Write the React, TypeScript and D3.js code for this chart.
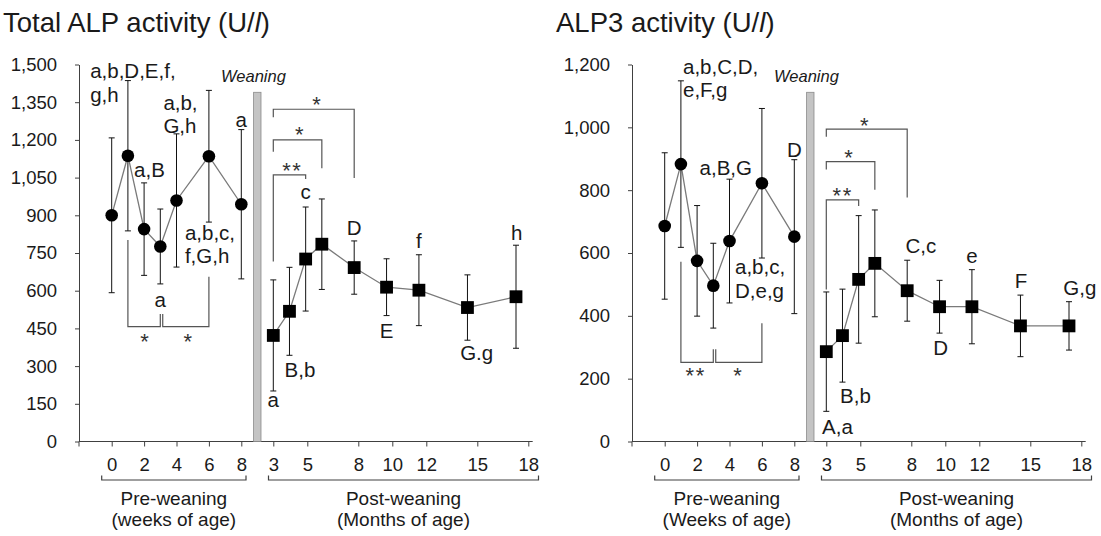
import React, { useRef, useEffect } from "react";
import * as d3 from "d3";

// ages
const preWeeks = [0, 1, 2, 3, 4, 6, 8];
const postMonths = [3, 4, 5, 6, 8, 10, 12, 15, 18];
const weekTicks = [0, 2, 4, 6, 8];
const monthTicks = [3, 5, 8, 10, 12, 15, 18];

// Total ALP (U/l), mean and SD
const totalPreMean = [900, 1137, 845, 776, 959, 1135, 944];
const totalPreSd = [308, 299, 184, 149, 265, 262, 297];
const totalPostMean = [422, 518, 726, 785, 692, 614, 602, 533, 576];
const totalPostSd = [221, 175, 207, 180, 106, 113, 141, 130, 205];
const totalYTicks = [0, 150, 300, 450, 600, 750, 900, 1050, 1200, 1350, 1500];

// ALP3 (U/l)
const alp3PreMean = [686, 883, 575, 496, 638, 822, 652];
const alp3PreSd = [233, 265, 176, 135, 197, 238, 245];
const alp3PostMean = [286, 337, 516, 567, 480, 429, 429, 368, 368];
const alp3PostSd = [190, 148, 203, 170, 97, 84, 118, 98, 77];
const alp3YTicks = [0, 200, 400, 600, 800, 1000, 1200];

// letters of significance, placed in data units (p = period)
const totalLetters = [
  { p: "pre", x: -1.33, y: 1445, lines: ["a,b,D,E,f,", "g,h"], anchor: "start" },
  { p: "pre", x: 2.33, y: 1053, lines: ["a,B"], anchor: "middle" },
  { p: "pre", x: 3.19, y: 1319, lines: ["a,b,", "G,h"], anchor: "start" },
  { p: "pre", x: 8, y: 1253, lines: ["a"], anchor: "middle" },
  { p: "pre", x: 4.52, y: 802, lines: ["a,b,c,", "f,G,h"], anchor: "start" },
  { p: "pre", x: 3, y: 536, lines: ["a"], anchor: "middle" },
  { p: "post", x: 3, y: 137, lines: ["a"], anchor: "middle" },
  { p: "post", x: 4.65, y: 258, lines: ["B,b"], anchor: "middle" },
  { p: "post", x: 5, y: 964, lines: ["c"], anchor: "middle" },
  { p: "post", x: 8, y: 822, lines: ["D"], anchor: "middle" },
  { p: "post", x: 10, y: 411, lines: ["E"], anchor: "middle" },
  { p: "post", x: 12, y: 769, lines: ["f"], anchor: "middle" },
  { p: "post", x: 15.57, y: 324, lines: ["G.g"], anchor: "middle" },
  { p: "post", x: 18.04, y: 802, lines: ["h"], anchor: "middle" },
];
const alp3Letters = [
  { p: "pre", x: 1.13, y: 1170, lines: ["a,b,C,D,", "e,F,g"], anchor: "start" },
  { p: "pre", x: 3.77, y: 848, lines: ["a,B,G"], anchor: "middle" },
  { p: "pre", x: 8, y: 906, lines: ["D"], anchor: "middle" },
  { p: "pre", x: 4.34, y: 532, lines: ["a,b,c,", "D,e,g"], anchor: "start" },
  { p: "post", x: 3.69, y: 24, lines: ["A,a"], anchor: "middle" },
  { p: "post", x: 4.8, y: 122, lines: ["B,b"], anchor: "middle" },
  { p: "post", x: 8.84, y: 600, lines: ["C,c"], anchor: "middle" },
  { p: "post", x: 10.07, y: 275, lines: ["D"], anchor: "middle" },
  { p: "post", x: 12, y: 568, lines: ["e"], anchor: "middle" },
  { p: "post", x: 15.03, y: 488, lines: ["F"], anchor: "middle" },
  { p: "post", x: 18.67, y: 466, lines: ["G,g"], anchor: "middle" },
];

// comparison brackets: legs x1/x2, level y, leg ends y1/y2, star centre sx/sy
const totalBrackets = [
  { p: "pre", x1: 1, x2: 3, y: 457, y1: 802, y2: 507, star: "*", sx: 2.07, sy: 416 },
  { p: "pre", x1: 3.15, x2: 6, y: 457, y1: 507, y2: 656, star: "*", sx: 4.74, sy: 416 },
  { p: "post", x1: 3, x2: 5, y: 1061, y1: 716, y2: 1044, star: "**", sx: 4.17, sy: 1096 },
  { p: "post", x1: 3, x2: 6, y: 1200, y1: 1153, y2: 1087, star: "*", sx: 4.65, sy: 1240 },
  { p: "post", x1: 3, x2: 8, y: 1322, y1: 1290, y2: 1048, star: "*", sx: 5.72, sy: 1359 },
];
const alp3Brackets = [
  { p: "pre", x1: 1, x2: 3, y: 252, y1: 572, y2: 294, star: "**", sx: 1.91, sy: 224 },
  { p: "pre", x1: 3.15, x2: 6, y: 252, y1: 294, y2: 376, star: "*", sx: 4.54, sy: 224 },
  { p: "post", x1: 3, x2: 5, y: 769, y1: 484, y2: 750, star: "**", sx: 4.01, sy: 797 },
  { p: "post", x1: 3, x2: 6, y: 891, y1: 866, y2: 801, star: "*", sx: 4.42, sy: 917 },
  { p: "post", x1: 3, x2: 8, y: 994, y1: 970, y2: 777, star: "*", sx: 5.39, sy: 1021 },
];

const FONT = "'Liberation Sans', Arial, sans-serif";
const INK = "#1a1a1a";

function Panel({ title, yMax, yTicks, preMean, preSd, postMean, postSd, letters, brackets, weeksLabel, offsetX }) {
  const gRef = useRef<SVGGElement>(null);

  useEffect(() => {
    const g = d3.select(gRef.current);
    g.selectAll("*").remove();

    const y = d3.scaleLinear().domain([0, yMax]).range([441.5, 64.5]);
    const xPre = d3.scaleLinear().domain([0, 8]).range([111.7, 241.3]);
    const xPost = d3.scaleLinear().domain([3, 18]).range([273.3, 516]);
    const xPostTick = d3.scaleLinear().domain([3, 18]).range([273.3, 528.3]);
    const xOf = (p, v) => (p === "pre" ? xPre(v) : xPost(v));
    const axisX = 79;
    const axisEnd = 532.7;

    // title
    const t = g.append("text").attr("x", 3).attr("y", 32)
      .attr("font-family", FONT).attr("font-size", 27.5).attr("fill", INK);
    t.append("tspan").text(title + " (U/");
    t.append("tspan").attr("font-style", "italic").text("l");
    t.append("tspan").text(")");

    // y axis
    const yAxis = d3.axisLeft(y).tickValues(yTicks).tickFormat(d3.format(","))
      .tickSizeInner(4).tickSizeOuter(0).tickPadding(18);
    const ya = g.append("g").attr("transform", `translate(${axisX},0)`).call(yAxis);
    ya.attr("font-family", FONT).attr("font-size", 18.5);
    ya.selectAll("text").attr("fill", INK);
    ya.selectAll("line, path").attr("stroke", "#404040");

    // x axis line + ticks
    g.append("line").attr("x1", axisX).attr("x2", axisEnd)
      .attr("y1", 441.5).attr("y2", 441.5).attr("stroke", "#404040");
    g.append("line").attr("x1", axisX).attr("x2", axisX)
      .attr("y1", 441.5).attr("y2", 446.5).attr("stroke", "#404040");
    const xa1 = g.append("g").attr("transform", "translate(0,441.5)")
      .call(d3.axisBottom(xPre).tickValues(weekTicks).tickSizeInner(5).tickSizeOuter(0).tickPadding(11.5));
    const xa2 = g.append("g").attr("transform", "translate(0,441.5)")
      .call(d3.axisBottom(xPostTick).tickValues(monthTicks).tickSizeInner(5).tickSizeOuter(0).tickPadding(11.5));
    [xa1, xa2].forEach((a) => {
      a.attr("font-family", FONT).attr("font-size", 18.5);
      a.select(".domain").remove();
      a.selectAll("text").attr("fill", INK);
      a.selectAll("line").attr("stroke", "#404040");
    });

    // period brackets and captions
    const periods = [
      { x1: 101.7, x2: 246, label: "Pre-weaning", sub: weeksLabel },
      { x1: 268.5, x2: 538.5, label: "Post-weaning", sub: "(Months of age)" },
    ];
    periods.forEach((pd) => {
      g.append("path")
        .attr("d", `M${pd.x1},475.5V480H${pd.x2}V475.5`)
        .attr("fill", "none").attr("stroke", "#404040").attr("stroke-width", 1.2);
      const cx = (pd.x1 + pd.x2) / 2;
      g.append("text").attr("x", cx).attr("y", 504.5).attr("text-anchor", "middle")
        .attr("font-family", FONT).attr("font-size", 19).attr("fill", INK).text(pd.label);
      g.append("text").attr("x", cx).attr("y", 526).attr("text-anchor", "middle")
        .attr("font-family", FONT).attr("font-size", 19).attr("fill", INK).text(pd.sub);
    });

    // weaning bar
    const wx = (xPre(8) + xPost(3)) / 2;
    g.append("rect").attr("x", wx - 3.7).attr("y", 92.3).attr("width", 7.4)
      .attr("height", 441.5 - 92.3).attr("fill", "#c4c4c4").attr("stroke", "#8a8a8a").attr("stroke-width", 0.8);
    g.append("text").attr("x", 221).attr("y", 82).attr("font-family", FONT)
      .attr("font-size", 16.5).attr("font-style", "italic").attr("fill", INK).text("Weaning");

    // series
    const series = [
      { p: "pre", xs: preWeeks, m: preMean, sd: preSd, shape: "circle" },
      { p: "post", xs: postMonths, m: postMean, sd: postSd, shape: "square" },
    ];
    series.forEach((s) => {
      const pts = s.xs.map((x, i) => ({ x: xOf(s.p, x), y: y(s.m[i]), hi: y(s.m[i] + s.sd[i]), lo: y(s.m[i] - s.sd[i]) }));
      const line = d3.line().x((d) => d.x).y((d) => d.y);
      g.append("path").attr("d", line(pts)).attr("fill", "none")
        .attr("stroke", "#7a7a7a").attr("stroke-width", 1.3);
      const eb = g.append("g").attr("stroke", "#111").attr("stroke-width", 1);
      pts.forEach((d) => {
        eb.append("line").attr("x1", d.x).attr("x2", d.x).attr("y1", d.hi).attr("y2", d.lo);
        eb.append("line").attr("x1", d.x - 3).attr("x2", d.x + 3).attr("y1", d.hi).attr("y2", d.hi);
        eb.append("line").attr("x1", d.x - 3).attr("x2", d.x + 3).attr("y1", d.lo).attr("y2", d.lo);
      });
      if (s.shape === "circle") {
        g.selectAll(null).data(pts).join("circle")
          .attr("cx", (d) => d.x).attr("cy", (d) => d.y).attr("r", 6.3).attr("fill", "#000");
      } else {
        g.selectAll(null).data(pts).join("rect")
          .attr("x", (d) => d.x - 6.4).attr("y", (d) => d.y - 6.4)
          .attr("width", 12.8).attr("height", 12.8).attr("fill", "#000");
      }
    });

    // significance brackets
    brackets.forEach((b) => {
      const x1 = xOf(b.p, b.x1);
      const x2 = xOf(b.p, b.x2);
      g.append("path")
        .attr("d", `M${x1},${y(b.y1)}V${y(b.y)}H${x2}V${y(b.y2)}`)
        .attr("fill", "none").attr("stroke", "#555").attr("stroke-width", 1.2);
      g.append("text").attr("x", xOf(b.p, b.sx)).attr("y", y(b.sy) + 12)
        .attr("text-anchor", "middle").attr("font-family", FONT).attr("font-size", 22)
        .attr("letter-spacing", 1.5).attr("fill", "#333").text(b.star);
    });

    // letters
    letters.forEach((l) => {
      const tx = g.append("text").attr("x", xOf(l.p, l.x)).attr("y", y(l.y))
        .attr("text-anchor", l.anchor).attr("font-family", FONT).attr("font-size", 20.5).attr("fill", INK);
      l.lines.forEach((ln, i) => {
        tx.append("tspan").attr("x", xOf(l.p, l.x)).attr("dy", i === 0 ? 0 : 23.5).text(ln);
      });
    });
  }, []);

  return <g ref={gRef} transform={`translate(${offsetX},0)`} />;
}

export default function App() {
  return (
    <svg width={1101} height={536} style={{ display: "block", position: "absolute", left: 0, top: 0, background: "#fff" }}>
      <Panel title="Total ALP activity" yMax={1500} yTicks={totalYTicks}
        preMean={totalPreMean} preSd={totalPreSd} postMean={totalPostMean} postSd={totalPostSd}
        letters={totalLetters} brackets={totalBrackets} weeksLabel="(weeks of age)" offsetX={0} />
      <Panel title="ALP3 activity" yMax={1200} yTicks={alp3YTicks}
        preMean={alp3PreMean} preSd={alp3PreSd} postMean={alp3PostMean} postSd={alp3PostSd}
        letters={alp3Letters} brackets={alp3Brackets} weeksLabel="(Weeks of age)" offsetX={553} />
    </svg>
  );
}
